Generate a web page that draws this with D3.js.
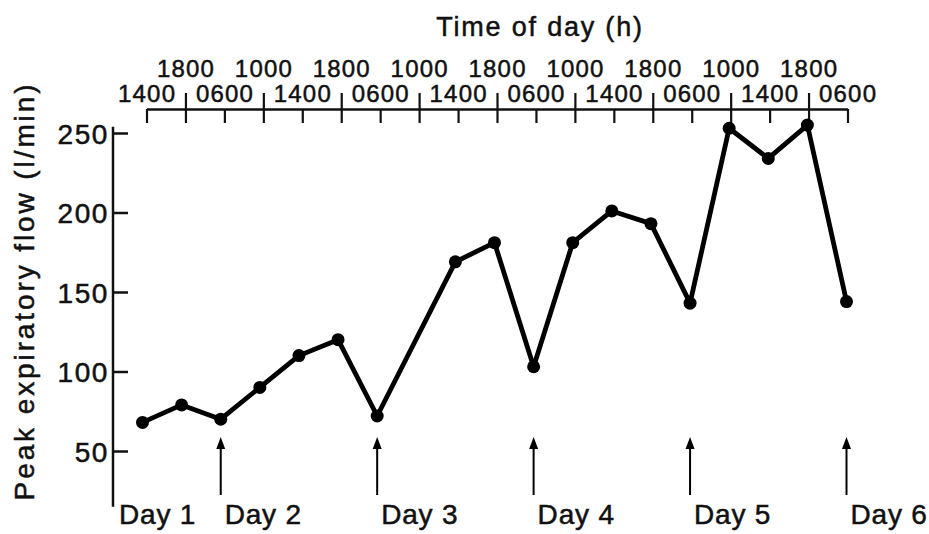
<!DOCTYPE html>
<html>
<head>
<meta charset="utf-8">
<script src="https://cdn.jsdelivr.net/npm/d3@7"></script>
<style>
  body { margin: 0; background: #fff; }
  svg { display: block; font-family: "Liberation Sans", Arial, Helvetica, sans-serif; }
  svg text { fill: #111; stroke: #111; stroke-width: 0.5px; }
  .axis path, .axis line { stroke: #111; }
</style>
</head>
<body>
<svg id="chart" width="929" height="534"></svg>
<script>
// measurement times, one every reading (equally spaced on the chart)
var times = ["1400", "1800", "0600", "1000", "1400", "1800", "0600", "1000", "1400", "1800",
             "0600", "1000", "1400", "1800", "0600", "1000", "1400", "1800", "0600"];
// peak expiratory flow, l/min (null = no reading)
var pef = [68, 79, 70, 90, 110, 120, 72, null, 169, 181, 103, 181, 201, 193, 143, 253, 234, 255, 144];
var yTicks = [50, 100, 150, 200, 250];
var days = ["Day 1", "Day 2", "Day 3", "Day 4", "Day 5", "Day 6"];
var dayAt = [null, 2, 6, 10, 14, 18];   // reading index the day arrow points to

var svg = d3.select("#chart");
var idx = times.map(function (d, i) { return i; });

var xAxis = d3.scalePoint().domain(idx).range([146.5, 847.5]);
var x = d3.scalePoint().domain(idx).range([142.5, 846.5]);
var y = d3.scaleLinear().domain([0, 250]).range([530.5, 133]);

// top time axis
var gTop = svg.append("g")
    .attr("class", "axis axis--x")
    .attr("transform", "translate(0,109)")
    .call(d3.axisBottom(xAxis).tickSize(14).tickSizeOuter(0).tickFormat(""));
gTop.select(".domain").attr("stroke-width", 2.5);
gTop.selectAll(".tick line")
    .attr("stroke-width", 2.2)
    .attr("y1", function (d) { return d % 2 ? -16 : 0; });

svg.append("g").selectAll("text")
    .data(idx)
  .enter().append("text")
    .attr("x", function (d) { return xAxis(d) + 0.6; })
    .attr("y", function (d) { return d % 2 ? 77 : 102; })
    .attr("text-anchor", "middle")
    .style("font-size", "24px")
    .style("letter-spacing", "1.2px")
    .text(function (d) { return times[d]; });

svg.append("text")
    .attr("x", 540)
    .attr("y", 36)
    .attr("text-anchor", "middle")
    .style("font-size", "27px")
    .style("letter-spacing", "1.8px")
    .text("Time of day (h)");

// left axis
var gLeft = svg.append("g")
    .attr("class", "axis axis--y")
    .attr("transform", "translate(113,0)")
    .call(d3.axisLeft(y).tickValues(yTicks).tickSize(-15).tickPadding(4));
gLeft.select(".domain").remove();
gLeft.selectAll(".tick line").attr("stroke-width", 2.5);
gLeft.selectAll(".tick text")
    .style("font-size", "28px")
    .style("letter-spacing", "1.6px")
    .attr("dy", "0.36em");
gLeft.append("line")
    .attr("y1", y(15))
    .attr("y2", y(254))
    .attr("stroke", "#111")
    .attr("stroke-width", 2.5);

svg.append("text")
    .attr("transform", "translate(34,291) rotate(-90)")
    .attr("text-anchor", "middle")
    .style("font-size", "28px")
    .style("letter-spacing", "2.9px")
    .text("Peak expiratory flow (l/min)");

// data line and points
var pts = pef.map(function (v, i) { return [i, v]; }).filter(function (d) { return d[1] != null; });

svg.append("path")
    .datum(pts)
    .attr("fill", "none")
    .attr("stroke", "#000")
    .attr("stroke-width", 4.8)
    .attr("stroke-linejoin", "round")
    .attr("d", d3.line()
      .x(function (d) { return x(d[0]); })
      .y(function (d) { return y(d[1]); }));

svg.selectAll(".dot")
    .data(pts)
  .enter().append("circle")
    .attr("class", "dot")
    .attr("cx", function (d) { return x(d[0]); })
    .attr("cy", function (d) { return y(d[1]); })
    .attr("r", 6.5)
    .attr("fill", "#000");

// day arrows and labels
var arrows = svg.append("g");
dayAt.forEach(function (k, i) {
  var tx = k == null ? 119 : x(k) + 4;
  if (k != null) {
    var ax = x(k);
    arrows.append("line")
        .attr("x1", ax).attr("x2", ax)
        .attr("y1", 495).attr("y2", 446)
        .attr("stroke", "#000")
        .attr("stroke-width", 2);
    arrows.append("path")
        .attr("d", "M" + ax + ",437L" + (ax - 4.5) + ",449L" + (ax + 4.5) + ",449Z")
        .attr("fill", "#000");
  }
  svg.append("text")
      .attr("x", tx)
      .attr("y", 524)
      .style("font-size", "28px")
      .style("letter-spacing", "0.8px")
      .text(days[i]);
});
</script>
</body>
</html>
